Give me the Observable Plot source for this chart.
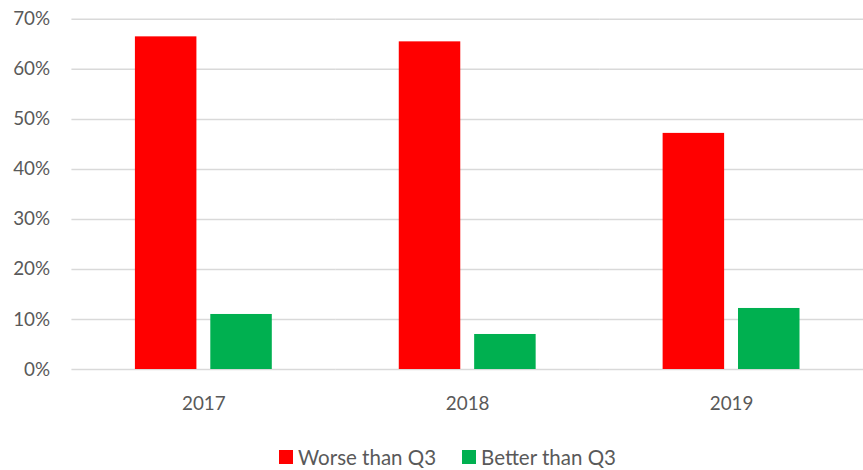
<!DOCTYPE html>
<html>
<head>
<meta charset="utf-8">
<script src="https://cdn.jsdelivr.net/npm/d3@7"></script>
<script src="https://cdn.jsdelivr.net/npm/@observablehq/plot@0.6"></script>
<style>
  html, body { margin: 0; padding: 0; background: #fff; }
  #wrap { width: 863px; height: 470px; overflow: hidden; position: relative; font-family: Lato, sans-serif; }
  #legend { display: flex; justify-content: center; align-items: center; gap: 26px; padding-left: 32px;
            font-size: 20.5px; color: #595959; height: 40px; margin-top: 10px; }
  #legend .item { display: flex; align-items: center; gap: 5px; }
  #legend .sw { width: 14px; height: 14px; display: inline-block; }
</style>
</head>
<body>
<div id="wrap">
  <div id="chart"></div>
  <div id="legend"></div>
</div>
<script>
// Share of responses per year, in percent
const years = ["2017", "2018", "2019"];
const series = ["Worse than Q3", "Better than Q3"];
const worse = [66.5, 65.5, 47.2];
const better = [11.0, 7.0, 12.2];
const yTicks = [0, 10, 20, 30, 40, 50, 60, 70];
const colors = ["#FF0000", "#00B050"];

const rows = years.flatMap((year, i) => [
  {year, series: series[0], value: worse[i]},
  {year, series: series[1], value: better[i]}
]);

const chart = Plot.plot({
  width: 870,
  height: 430,
  marginLeft: 72,
  marginRight: 0,
  marginTop: 19,
  marginBottom: 58,
  style: {fontFamily: "Lato, sans-serif", fontSize: "19px", color: "#595959", background: "#fff"},
  fx: {domain: years, padding: 0, axis: null},
  x: {domain: series, paddingInner: 0.184, paddingOuter: 0.842, axis: null},
  y: {domain: [0, 70], axis: null},
  color: {domain: series, range: colors},
  marks: [
    Plot.gridY(yTicks, {stroke: "#D9D9D9", strokeOpacity: 1, strokeWidth: 1.5}),
    Plot.barY(rows, {fx: "year", x: "series", y: "value", fill: "series"}),
    Plot.axisY({ticks: yTicks, tickFormat: d => d + "%", tickSize: 0, tickPadding: 22, label: null, fill: "#595959"}),
    Plot.axisFx({anchor: "bottom", tickSize: 0, tickPadding: 27, label: null, fill: "#595959"})
  ]
});
document.getElementById("chart").appendChild(chart);

const legend = d3.select("#legend");
series.forEach((s, i) => {
  const item = legend.append("div").attr("class", "item");
  item.append("span").attr("class", "sw").style("background", colors[i]);
  item.append("span").text(s);
});
</script>
</body>
</html>
